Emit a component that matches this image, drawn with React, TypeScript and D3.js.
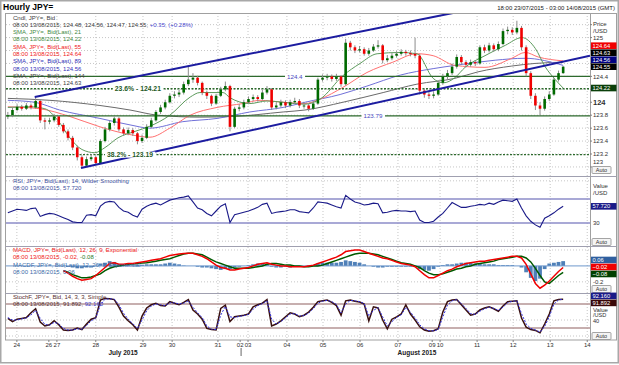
import * as d3 from "d3";
import { useEffect, useRef } from "react";

// Hourly JPY= candles at ~3 hour steps (open = previous close)
const firstOpen = 123.78;
const closes = [
  123.80, 123.88, 123.93, 123.90, 123.95, 123.92, 124.02, 123.72, 123.70, 123.72,
  123.78, 123.65, 123.55, 123.45, 123.30, 123.15, 123.02, 123.12, 123.15, 123.06,
  123.40, 123.58, 123.68, 123.75, 123.58, 123.52, 123.57, 123.52, 123.40, 123.45,
  123.62, 123.72, 123.85, 123.92, 124.00, 124.10, 124.12, 124.15, 124.28, 124.35,
  124.38, 124.30, 124.15, 124.10, 123.98, 124.10, 124.20, 124.25, 123.62, 123.90,
  123.92, 124.00, 124.05, 124.08, 124.05, 124.15, 124.20, 123.92, 123.95, 124.00,
  123.95, 124.00, 124.02, 123.95, 123.95, 123.90, 123.98, 124.35, 124.38, 124.40,
  124.36, 124.40, 124.28, 124.92, 124.85, 124.80, 124.82, 124.75, 124.80, 124.86,
  124.88, 124.65, 124.68, 124.72, 124.75, 124.78, 124.76, 124.75, 124.72, 124.18,
  124.12, 124.10, 124.12, 124.30, 124.40, 124.45, 124.55, 124.70, 124.62, 124.58,
  124.62, 124.60, 124.85, 124.80, 124.88, 124.82, 124.90, 125.10, 125.12, 125.08,
  125.15, 124.85, 124.45, 124.10, 123.95, 123.90, 124.05, 124.12, 124.35, 124.45,
  124.55,
];
const highs = [
  123.85, 123.92, 123.97, 123.96, 123.99, 123.98, 124.08, 124.04, 123.76, 123.76,
  123.82, 123.80, 123.68, 123.58, 123.48, 123.33, 123.18, 123.16, 123.20, 123.18,
  123.43, 123.62, 123.72, 123.78, 123.77, 123.61, 123.61, 123.60, 123.54, 123.50,
  123.66, 123.76, 123.88, 123.96, 124.04, 124.14, 124.17, 124.19, 124.32, 124.57,
  124.45, 124.41, 124.32, 124.18, 124.12, 124.13, 124.24, 124.32, 124.27, 123.93,
  123.97, 124.04, 124.09, 124.12, 124.11, 124.19, 124.25, 124.22, 124.00, 124.04,
  124.03, 124.04, 124.07, 124.05, 124.00, 123.98, 124.02, 124.38, 124.43, 124.44,
  124.43, 124.44, 124.42, 124.98, 124.95, 124.88, 124.87, 124.85, 124.84, 124.90,
  124.96, 124.90, 124.73, 124.76, 124.79, 124.82, 124.81, 124.80, 125.00, 124.75,
  124.21, 124.16, 124.17, 124.34, 124.44, 124.50, 124.60, 124.74, 124.73, 124.65,
  124.66, 124.65, 124.88, 124.89, 124.92, 124.91, 124.94, 125.14, 125.17, 125.16,
  125.26, 125.18, 124.88, 124.48, 124.14, 124.00, 124.09, 124.17, 124.38, 124.49,
  124.56,
];
const lows = [
  123.74, 123.77, 123.86, 123.87, 123.88, 123.89, 123.90, 123.68, 123.58, 123.66,
  123.69, 123.62, 123.52, 123.41, 123.26, 123.10, 122.98, 123.00, 123.09, 123.04,
  123.05, 123.38, 123.55, 123.64, 123.55, 123.48, 123.49, 123.48, 123.35, 123.37,
  123.43, 123.60, 123.70, 123.82, 123.89, 123.98, 124.06, 124.08, 124.12, 124.25,
  124.30, 124.26, 124.11, 124.05, 123.94, 123.96, 124.08, 124.17, 123.55, 123.60,
  123.86, 123.89, 123.97, 124.02, 124.01, 124.03, 124.12, 123.88, 123.89, 123.92,
  123.91, 123.92, 123.97, 123.91, 123.90, 123.86, 123.88, 123.96, 124.32, 124.34,
  124.32, 124.33, 124.24, 124.26, 124.80, 124.76, 124.77, 124.72, 124.72, 124.78,
  124.83, 124.60, 124.62, 124.65, 124.69, 124.72, 124.72, 124.71, 124.68, 124.12,
  124.07, 124.05, 124.06, 124.10, 124.27, 124.36, 124.42, 124.52, 124.58, 124.54,
  124.55, 124.56, 124.58, 124.76, 124.77, 124.78, 124.79, 124.88, 125.05, 125.04,
  125.05, 124.80, 124.40, 124.05, 123.88, 123.80, 123.87, 124.02, 124.10, 124.32,
  124.44,
];

// moving averages, [bar index, value]
const sma21 = [
  [0, 123.92], [4.8, 123.93], [8, 123.9], [10.8, 123.72], [13.4, 123.45], [16, 123.27],
  [18.8, 123.22], [21, 123.3], [23.8, 123.45], [27.5, 123.55], [30.7, 123.63], [35, 123.8],
  [39.4, 124.08], [41.5, 124.15], [46.5, 124.15], [48, 124.07], [52.3, 123.98], [56, 124.02],
  [59.5, 124.0], [64.2, 123.97], [67.5, 124.05], [72.4, 124.41], [76.1, 124.6], [79.8, 124.75],
  [84.8, 124.77], [88.4, 124.75], [91.9, 124.37], [94.1, 124.3], [96.6, 124.38], [98.8, 124.54],
  [103.1, 124.72], [107.5, 124.88], [111.1, 125.0], [114, 124.83], [116.1, 124.55],
  [118.3, 124.35], [120, 124.22],
];
const sma55 = [
  [0, 123.93], [6.9, 123.9], [13.4, 123.78], [19.9, 123.62], [26.4, 123.5], [30.7, 123.46],
  [35, 123.6], [39.4, 123.8], [45.2, 123.92], [50.8, 123.98], [54.5, 124.03], [59.5, 124.0],
  [64.2, 123.98], [67.5, 124.05], [72.4, 124.23], [77.6, 124.46], [83.2, 124.62], [88.4, 124.75],
  [91.9, 124.72], [96.6, 124.57], [103.1, 124.54], [108.9, 124.68], [111.8, 124.77],
  [114.6, 124.7], [120, 124.64],
];
const sma89 = [
  [0, 124.03], [5.8, 124.0], [11.2, 123.88], [19.9, 123.75], [26.4, 123.65], [30.7, 123.6],
  [37.8, 123.7], [45.2, 123.75], [52.3, 123.85], [59.5, 123.92], [64.2, 124.0], [71.8, 124.12],
  [77.6, 124.25], [84.8, 124.42], [91.9, 124.52], [96.6, 124.57], [105.3, 124.65],
  [111.8, 124.68], [120, 124.57],
];
const sma144 = [
  [0, 124.06], [9.1, 124.03], [19.9, 123.95], [26.4, 123.88], [32.4, 123.8], [41.5, 123.77],
  [48.6, 123.78], [59.5, 123.85], [64.2, 123.88], [72.4, 124.0], [81.1, 124.15], [88.4, 124.28],
  [96.6, 124.37], [101.6, 124.47], [108.9, 124.56], [113.9, 124.6], [120, 124.62],
];

const rsi = [
  47, 50, 53, 52, 51, 54, 55, 41, 44, 46, 45, 42, 39, 36, 32, 31, 31, 43, 44, 42,
  58, 64, 66, 65, 56, 50, 48, 43, 40, 53, 58, 61, 63, 60, 64, 68, 70, 72, 73, 75,
  65, 55, 52, 46, 42, 50, 58, 62, 31, 44, 46, 48, 50, 53, 56, 61, 63, 46, 48, 49,
  50, 52, 52, 49, 48, 47, 55, 65, 64, 63, 60, 57, 55, 76, 70, 65, 63, 60, 61, 63,
  62, 47, 48, 50, 51, 50, 50, 49, 50, 35, 31, 31, 33, 40, 46, 55, 64, 60, 56, 56,
  58, 59, 61, 60, 63, 61, 65, 68, 67, 66, 70, 55, 42, 33, 27, 23, 38, 42, 47, 53,
  57.72,
];

const N = null;
const macd = [
  N, N, N, N, N, N, N, N, N, N, N, N,
  -0.06, -0.09, -0.13, -0.16, -0.18, -0.17, -0.16, -0.12,
  -0.07, -0.02, 0.03, 0.04, 0.02, 0.02, 0.03, 0.03, 0.04, 0.05,
  0.06, 0.07, 0.08, 0.09, 0.11, 0.13, 0.14, 0.15, 0.155, 0.16,
  0.16, 0.14, 0.12, 0.09, 0.05, 0.01, -0.02, -0.03, -0.05, -0.05,
  -0.04, -0.03, -0.02, 0.0, 0.02, 0.03, 0.04, 0.02, 0.01, 0.0,
  0.0, -0.01, -0.01, -0.01, -0.01, 0.0, 0.01, 0.03, 0.05, 0.07,
  0.09, 0.11, 0.14, 0.18, 0.19, 0.2, 0.2, 0.18, 0.16, 0.14,
  0.12, 0.1, 0.09, 0.07, 0.05, 0.03, 0.02, 0.01, -0.01, -0.06,
  -0.11, -0.15, -0.15, -0.12, -0.09, -0.06, -0.04, -0.01, 0.01, 0.03,
  0.04, 0.05, 0.06, 0.06, 0.07, 0.08, 0.09, 0.1, 0.11, 0.12,
  0.12, 0.1, 0.02, -0.1, -0.22, -0.28, -0.24, -0.19, -0.13, -0.07,
  -0.02,
];
const macdSignal = [
  N, N, N, N, N, N, N, N, N, N, N, N,
  -0.06, -0.08, -0.11, -0.13, -0.15, -0.15, -0.14, -0.12,
  -0.1, -0.06, -0.03, -0.01, 0.0, 0.01, 0.02, 0.025, 0.03, 0.035,
  0.04, 0.05, 0.06, 0.07, 0.08, 0.09, 0.11, 0.13, 0.15, 0.16,
  0.16, 0.15, 0.14, 0.11, 0.08, 0.05, 0.03, 0.01, -0.01, -0.03,
  -0.03, -0.03, -0.03, -0.02, -0.01, 0.0, 0.02, 0.03, 0.03, 0.02,
  0.01, 0.01, 0.0, 0.0, -0.01, -0.01, 0.0, 0.0, 0.01, 0.03,
  0.05, 0.07, 0.09, 0.11, 0.13, 0.15, 0.16, 0.16, 0.16, 0.15,
  0.14, 0.12, 0.1, 0.08, 0.06, 0.04, 0.03, 0.02, 0.0, -0.02,
  -0.06, -0.09, -0.11, -0.11, -0.1, -0.08, -0.06, -0.04, -0.03, -0.01,
  0.0, 0.02, 0.03, 0.04, 0.05, 0.06, 0.08, 0.09, 0.1, 0.11,
  0.12, 0.12, 0.1, 0.05, -0.03, -0.12, -0.2, -0.22, -0.17, -0.12,
  -0.08,
];

const stochK = [
  44, 36, 42, 44, 46, 58, 68, 35, 25, 28, 38, 28, 15, 14, 15, 20, 16, 30, 42, 46,
  90, 94, 93, 91, 72, 50, 38, 28, 15, 50, 70, 78, 82, 76, 75, 86, 82, 78, 84, 91,
  65, 55, 42, 19, 16, 15, 69, 77, 36, 48, 50, 52, 55, 73, 78, 82, 91, 25, 30, 38,
  48, 58, 55, 48, 52, 60, 72, 86, 88, 90, 84, 76, 52, 88, 90, 87, 85, 80, 38, 73,
  70, 40, 18, 42, 48, 55, 78, 55, 40, 23, 15, 12, 13, 18, 60, 86, 90, 91, 78, 65,
  52, 55, 65, 70, 73, 68, 62, 75, 86, 87, 88, 45, 22, 16, 14, 8, 30, 55, 88, 91,
  91.892,
];
const stochD = [
  46, 40, 40, 43, 45, 53, 64, 44, 29, 27, 34, 31, 19, 15, 15, 18, 17, 26, 38, 45,
  78, 92, 93, 92, 78, 57, 42, 31, 19, 40, 63, 75, 80, 78, 76, 83, 83, 80, 82, 88,
  72, 58, 46, 25, 17, 16, 52, 74, 48, 46, 49, 51, 54, 67, 76, 81, 88, 42, 30, 36,
  45, 55, 56, 50, 51, 57, 68, 82, 87, 89, 86, 79, 58, 80, 89, 88, 86, 81, 50, 64,
  71, 48, 25, 36, 46, 53, 71, 60, 45, 28, 18, 13, 13, 16, 48, 77, 88, 91, 81, 69,
  56, 54, 62, 68, 72, 69, 64, 72, 83, 87, 88, 56, 30, 19, 15, 10, 24, 48, 80, 90,
  92.16,
];

const dayLabels = ["24", "26", "27", "28", "29", "30", "31", "02", "03", "04", "05", "06", "07", "09", "10", "11", "12", "13", "14"];
const dayIdx = [1.95, 8.86, 10.6, 19.0, 29.2, 35.5, 45.4, 50.2, 51.9, 60.3, 68.1, 76.1, 84.3, 91.7, 93.4, 101.4, 109.2, 117.2, 125.2];
const gridDays = ["24", "27", "28", "29", "30", "31", "03", "04", "05", "06", "07", "10", "11", "12", "13", "14"];
const monthLabels = ["July 2015", "August 2015"];
const monthIdx = [24.9, 88.4];
const monthSplitIdx = 50.4;

const levelValues = [124.4, 124.21, 123.79, 123.19];
const levelNames = ["124.4", "23.6% - 124.21", "123.79", "38.2% - 123.19"];
const levelDashed = [false, true, false, true];
const levelLabelIdx = [62, 28.1, 78.9, 26.4];

const upperChannel = [[5.8, 124.08], [96.2, 125.38]];
const lowerChannel = [[15.8, 122.985], [125.8, 124.72]];

const priceTicks = [123, 123.2, 123.4, 123.6, 123.8, 124, 124.2, 124.4, 124.6, 124.8, 125, 125.2];
const priceTagValues = [124.64, 124.63, 124.56, 124.55];
const priceTagColors = ["#f00000", "#000000", "#000080", "#000000"];
const sma21Last = 124.22;
const rsiLast = 57.72;
const macdTagValues = [0.06, -0.02, -0.08];
const macdTagColors = ["#2f5f9f", "#f00000", "#004000"];
const stochTagValues = [92.16, 91.892];
const stochTagColors = ["#1a1a88", "#3a0808"];

const FONT = "'Liberation Sans Narrow','Liberation Sans',Arial,sans-serif";

export default function App() {
  const ref = useRef<SVGSVGElement>(null);

  useEffect(() => {
    if (!ref.current) return;
    const svg = d3.select(ref.current);
    svg.selectAll("*").remove();

    const W = 619;
    const H = 365;
    const left = 6;
    const right = 590;
    const panes: Record<string, number[]> = {
      main: [13, 176],
      rsi: [176, 246],
      macd: [246, 293],
      stoch: [293, 340],
    };

    const x = d3.scaleLinear().domain([-0.4, 125.8]).range([left, right]);
    const yP = d3.scaleLinear().domain([122.86, 125.38]).range([176, 13]);
    const yR = d3.scaleLinear().domain([-8, 108]).range([246, 176]);
    const yM = d3.scaleLinear().domain([-0.34, 0.25]).range([293, 246]);
    const yS = d3.scaleLinear().domain([-10, 107.5]).range([340, 293]);

    const label = (g: any, tx: number, ty: number, parts: [string, string][], size = 6, anchor = "start", weight = "normal") => {
      const t = g
        .append("text")
        .attr("x", tx)
        .attr("y", ty)
        .attr("font-family", FONT)
        .attr("font-size", size)
        .attr("font-weight", weight)
        .attr("text-anchor", anchor);
      parts.forEach(([s, c]) => t.append("tspan").attr("fill", c).text(s));
      return t;
    };

    svg.append("rect").attr("width", W).attr("height", H).attr("fill", "#fff");

    // clip paths for each pane
    const defs = svg.append("defs");
    Object.entries(panes).forEach(([k, [t, b]]) => {
      defs
        .append("clipPath")
        .attr("id", `clip-${k}`)
        .append("rect")
        .attr("x", left)
        .attr("y", t)
        .attr("width", right - left)
        .attr("height", b - t);
    });

    // title + range
    label(svg, 3, 10, [["Hourly JPY=", "#000"]], 8.5, "start", "bold").attr("font-family", "'Liberation Sans',Arial,sans-serif");
    label(svg, 615, 10, [["18:00 23/07/2015 - 03:00 14/08/2015 (GMT)", "#202020"]], 6, "end");

    // vertical grid
    const grid = svg.append("g").attr("stroke", "#b8b8b8").attr("stroke-dasharray", "1,2").attr("stroke-width", 0.8);
    gridDays.forEach((d) => {
      const gx = x(dayIdx[dayLabels.indexOf(d)]);
      grid.append("line").attr("x1", gx).attr("x2", gx).attr("y1", 13).attr("y2", 340);
    });
    // horizontal grid
    priceTicks.forEach((p) =>
      grid.append("line").attr("x1", left).attr("x2", right).attr("y1", yP(p)).attr("y2", yP(p))
    );
    [0, 100].forEach((v) => grid.append("line").attr("x1", left).attr("x2", right).attr("y1", yR(v)).attr("y2", yR(v)));
    [-0.2, 0.2].forEach((v) => grid.append("line").attr("x1", left).attr("x2", right).attr("y1", yM(v)).attr("y2", yM(v)));
    [0, 40].forEach((v) => grid.append("line").attr("x1", left).attr("x2", right).attr("y1", yS(v)).attr("y2", yS(v)));

    // ---- main pane ----
    const gMain = svg.append("g").attr("clip-path", "url(#clip-main)");

    const maLine = d3
      .line<number[]>()
      .x((d) => x(d[0]))
      .y((d) => yP(d[1]))
      .curve(d3.curveMonotoneX);
    const mas: [number[][], string][] = [
      [sma144, "#6a6a6a"],
      [sma89, "#7070d8"],
      [sma55, "#ff7070"],
      [sma21, "#5c9a5c"],
    ];
    mas.forEach(([data, color]) =>
      gMain.append("path").attr("d", maLine(data)).attr("fill", "none").attr("stroke", color).attr("stroke-width", 1)
    );

    levelValues.forEach((v, k) => {
      gMain
        .append("line")
        .attr("x1", left)
        .attr("x2", right)
        .attr("y1", yP(v))
        .attr("y2", yP(v))
        .attr("stroke", "#2d6a2d")
        .attr("stroke-width", 1.4)
        .attr("stroke-dasharray", levelDashed[k] ? "2,1.5" : null);
    });

    const candles = closes.map((c, i) => ({
      i,
      o: i === 0 ? firstOpen : closes[i - 1],
      c,
      h: highs[i],
      l: lows[i],
    }));

    gMain
      .selectAll(".wick")
      .data(candles)
      .join("line")
      .attr("x1", (d) => x(d.i))
      .attr("x2", (d) => x(d.i))
      .attr("y1", (d) => yP(d.h))
      .attr("y2", (d) => yP(d.l))
      .attr("stroke", "#8c8c8c")
      .attr("stroke-width", 1);

    gMain
      .selectAll(".body")
      .data(candles)
      .join("rect")
      .attr("x", (d) => x(d.i) - 1.3)
      .attr("width", 2.6)
      .attr("y", (d) => yP(Math.max(d.o, d.c)))
      .attr("height", (d) => Math.max(1, Math.abs(yP(d.o) - yP(d.c))))
      .attr("fill", (d) => (d.c >= d.o ? "#006a00" : "#f00000"));

    const chLine = d3
      .line<number[]>()
      .x((d) => x(d[0]))
      .y((d) => yP(d[1]));
    [upperChannel, lowerChannel].forEach((ch) =>
      gMain.append("path").attr("d", chLine(ch)).attr("fill", "none").attr("stroke", "#1c1ca0").attr("stroke-width", 2)
    );

    // level labels with white background
    levelValues.forEach((v, k) => {
      const isFib = levelDashed[k];
      const t = label(
        gMain,
        x(levelLabelIdx[k]),
        yP(v) + 2.3,
        [[levelNames[k], isFib ? "#1f5a1f" : "#4848c0"]],
        isFib ? 6.8 : 6.2,
        "middle",
        isFib ? "bold" : "normal"
      );
      const bb = (t.node() as SVGTextElement).getBBox();
      gMain
        .insert("rect", () => t.node())
        .attr("x", bb.x - 2)
        .attr("y", yP(v) - 3)
        .attr("width", bb.width + 4)
        .attr("height", 6)
        .attr("fill", "#fff");
    });

    // legend
    const legendRows: [string, string][][] = [
      [["Cndl, JPY=, Bid", "#404040"]],
      [["08:00 13/08/2015, 124.48, 124.56, 124.47, 124.55, ", "#404040"], ["+0.35, (+0.28%)", "#4a4ad0"]],
      [["SMA, JPY=, Bid(Last),  21", "#3f8a3f"]],
      [["08:00 13/08/2015, 124.22", "#3f8a3f"]],
      [["SMA, JPY=, Bid(Last),  55", "#f02020"]],
      [["08:00 13/08/2015, 124.64", "#f02020"]],
      [["SMA, JPY=, Bid(Last),  89", "#3030b8"]],
      [["08:00 13/08/2015, 124.56", "#3030b8"]],
      [["SMA, JPY=, Bid(Last),  144", "#404040"]],
      [["08:00 13/08/2015, 124.63", "#404040"]],
    ];
    legendRows.forEach((row, k) => label(svg, 13, 19.5 + k * 7.3, row, 6));

    // ---- RSI pane ----
    const gRsi = svg.append("g").attr("clip-path", "url(#clip-rsi)");
    [30, 70].forEach((v) =>
      gRsi.append("line").attr("x1", left).attr("x2", right).attr("y1", yR(v)).attr("y2", yR(v)).attr("stroke", "#8c8cc8").attr("stroke-width", 1.6)
    );
    const rsiLine = d3
      .line<number>()
      .x((_, i) => x(i))
      .y((d) => yR(d));
    gRsi.append("path").attr("d", rsiLine(rsi)).attr("fill", "none").attr("stroke", "#1a1a88").attr("stroke-width", 1.1);
    label(svg, 13, 183, [["RSI, JPY=, Bid(Last),  14, Wilder Smoothing", "#4050a0"]], 6);
    label(svg, 13, 190.3, [["08:00 13/08/2015, 57.720", "#4050a0"]], 6);

    // ---- MACD pane ----
    const gMacd = svg.append("g").attr("clip-path", "url(#clip-macd)");
    const hist = macd.map((m, i) => (m === null || macdSignal[i] === null ? null : { i, v: (m as number) - (macdSignal[i] as number) }));
    gMacd
      .selectAll(".hist")
      .data(hist.filter((d) => d !== null) as { i: number; v: number }[])
      .join("rect")
      .attr("x", (d) => x(d.i) - 1.9)
      .attr("width", 3.8)
      .attr("y", (d) => Math.min(yM(0), yM(d.v)))
      .attr("height", (d) => Math.abs(yM(d.v) - yM(0)))
      .attr("fill", "#4f80b8");
    gMacd.append("line").attr("x1", left).attr("x2", right).attr("y1", yM(0)).attr("y2", yM(0)).attr("stroke", "#6f98cc").attr("stroke-width", 1);
    const macdLine = d3
      .line<number | null>()
      .defined((d) => d !== null)
      .x((_, i) => x(i))
      .y((d) => yM(d as number));
    gMacd.append("path").attr("d", macdLine(macdSignal)).attr("fill", "none").attr("stroke", "#005a00").attr("stroke-width", 1.5);
    gMacd.append("path").attr("d", macdLine(macd)).attr("fill", "none").attr("stroke", "#f00000").attr("stroke-width", 1.5);
    label(svg, 13, 252, [["MACD, JPY=, Bid(Last),  12, 26, 9, Exponential", "#f02020"]], 6);
    label(svg, 13, 259.3, [["08:00 13/08/2015, -0.02, ", "#f02020"], ["-0.08", "#2a7a2a"]], 6);
    label(svg, 13, 266.6, [["MACDF, JPY=, Bid(Last),  12, 26, 9, Exponential", "#3a6aa8"]], 6);
    label(svg, 13, 273.9, [["08:00 13/08/2015, 0.06", "#3a6aa8"]], 6);

    // ---- Stochastic pane ----
    const gSto = svg.append("g").attr("clip-path", "url(#clip-stoch)");
    [20, 80].forEach((v) =>
      gSto.append("line").attr("x1", left).attr("x2", right).attr("y1", yS(v)).attr("y2", yS(v)).attr("stroke", "#b49494").attr("stroke-width", 1.6)
    );
    const stoLine = d3
      .line<number>()
      .x((_, i) => x(i))
      .y((d) => yS(d));
    gSto.append("path").attr("d", stoLine(stochK)).attr("fill", "none").attr("stroke", "#3a1010").attr("stroke-width", 1.5);
    gSto.append("path").attr("d", stoLine(stochD)).attr("fill", "none").attr("stroke", "#3030e0").attr("stroke-width", 1).attr("stroke-dasharray", "2,1.5");
    label(svg, 13, 299, [["StochF, JPY=, Bid,  14, 3, 3, Simple", "#5a3030"]], 6);
    label(svg, 13, 306.3, [["08:00 13/08/2015, 91.892, ", "#5a3030"], ["92.160", "#4040c8"]], 6);

    // ---- frames ----
    const frame = svg.append("g").attr("fill", "none");
    frame.append("rect").attr("x", 0.75).attr("y", 0.75).attr("width", W - 1.5).attr("height", H - 3).attr("stroke", "#a8a8a8").attr("stroke-width", 1.5);
    frame.append("rect").attr("x", 5.5).attr("y", 13.5).attr("width", 611).attr("height", 326.5).attr("stroke", "#a0a0a0");
    [176, 246, 293].forEach((yy) =>
      frame.append("line").attr("x1", 5.5).attr("x2", 616.5).attr("y1", yy + 0.5).attr("y2", yy + 0.5).attr("stroke", "#a0a0b0")
    );
    frame.append("line").attr("x1", right + 0.5).attr("x2", right + 0.5).attr("y1", 13.5).attr("y2", 340).attr("stroke", "#a0a0a0");

    // ---- right axis ----
    const ax = svg.append("g");
    const tx = 593;
    const tagH = 6.6;

    const tag = (v: string, cy: number, color: string) => {
      ax.append("rect").attr("x", 591).attr("y", cy - tagH / 2).attr("width", 25.5).attr("height", tagH).attr("fill", color);
      label(ax, 592.5, cy + 2, [[v, "#fff"]], 5.8);
    };
    const auto = (cy: number) => {
      ax.append("rect").attr("x", 592).attr("y", cy - 3.5).attr("width", 19).attr("height", 7).attr("rx", 1).attr("fill", "#f4f4f4").attr("stroke", "#808080").attr("stroke-width", 0.7);
      label(ax, 601.5, cy + 2, [["Auto", "#303030"]], 5.5, "middle");
    };
    const mainAutoY = 170;

    // price tags: the bottom one sits on its value, the others stack upwards
    let prevY = Infinity;
    const priceTagY = priceTagValues
      .map((v, k) => ({ v, k, y: yP(v) }))
      .sort((a, b) => b.y - a.y)
      .map((d) => {
        const yy = Math.min(d.y, prevY - 7);
        prevY = yy;
        return { ...d, y: yy };
      });
    const takenY = [...priceTagY.map((d) => d.y), yP(sma21Last), 24, 31];

    label(ax, tx, 26, [["Price", "#303030"]], 6);
    label(ax, tx, 33, [["/USD", "#303030"]], 6);
    priceTicks.forEach((p) => {
      const py = yP(p);
      ax.append("line").attr("x1", right).attr("x2", right + 2).attr("y1", py).attr("y2", py).attr("stroke", "#808080");
      if (takenY.some((t) => Math.abs(t - py) < 6.5)) return;
      const isMajor = p === 124;
      // keep the lowest label clear of the "Auto" button
      const base = Math.min(py + (isMajor ? 2.8 : 2.2), mainAutoY - 6);
      label(ax, tx, base, [[d3.format("~f")(+p.toFixed(1)), "#303030"]], isMajor ? 7.5 : 6, "start", isMajor ? "bold" : "normal");
    });
    priceTagY.forEach((d) => tag(d.v.toFixed(2), d.y, priceTagColors[d.k]));
    tag(sma21Last.toFixed(2), yP(sma21Last), "#0a3f0a");
    auto(mainAutoY);

    // RSI axis
    label(ax, tx, 188, [["Value", "#303030"]], 6);
    label(ax, tx, 195, [["/USD", "#303030"]], 6);
    label(ax, tx, yR(30) + 2.2, [["30", "#303030"]], 6);
    tag(rsiLast.toFixed(3), yR(rsiLast), "#1a1a88");
    auto(242);

    // MACD axis
    label(ax, tx, yM(-0.2) + 2.2, [["-0.2", "#303030"]], 6);
    const mMean = d3.mean(macdTagValues, (v) => yM(v)) as number;
    macdTagValues.forEach((v, k) => tag(d3.format(".2f")(v), mMean + (k - 1) * 7, macdTagColors[k]));
    auto(289);

    // Stochastic axis
    const sMean = d3.mean(stochTagValues, (v) => yS(v)) as number;
    stochTagValues.forEach((v, k) => tag(v.toFixed(3), sMean - 3.3 + k * 7, stochTagColors[k]));
    label(ax, tx, 311.5, [["Value", "#303030"]], 6);
    label(ax, tx, 317.2, [["/USD", "#303030"]], 5.6);
    label(ax, tx, yS(40) + 3, [["40", "#303030"]], 5.6);
    auto(336);

    // ---- x axis ----
    const xa = svg.append("g");
    dayLabels.forEach((d, k) => {
      const dx = x(dayIdx[k]);
      xa.append("line").attr("x1", dx).attr("x2", dx).attr("y1", 340).attr("y2", 342).attr("stroke", "#808080");
      label(xa, dx, 347, [[d, "#303030"]], 6, "middle");
    });
    monthLabels.forEach((m, k) => label(xa, x(monthIdx[k]), 354.5, [[m, "#202020"]], 6.5, "middle", "bold"));
    const sx = x(monthSplitIdx);
    xa.append("line").attr("x1", sx).attr("x2", sx).attr("y1", 348).attr("y2", 356).attr("stroke", "#404040").attr("stroke-width", 0.8);

    return () => {
      svg.selectAll("*").remove();
    };
  }, []);

  return <svg ref={ref} width={619} height={365} style={{ position: "absolute", left: 0, top: 0 }} />;
}
